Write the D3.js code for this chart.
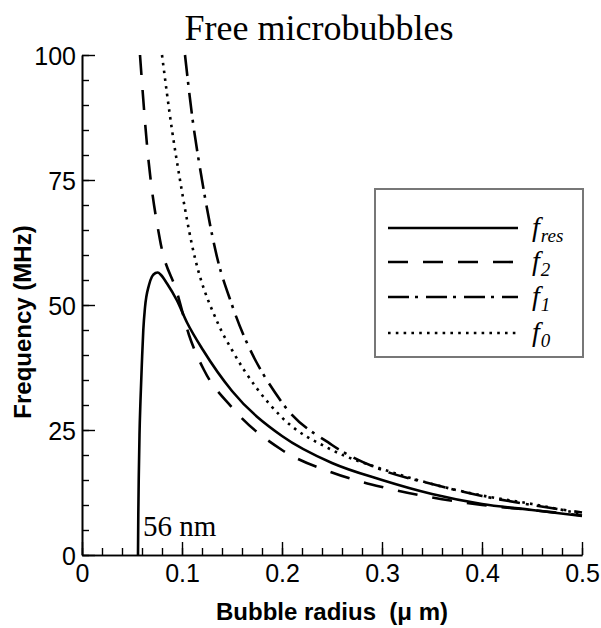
<!DOCTYPE html>
<html><head><meta charset="utf-8">
<script src="https://cdn.jsdelivr.net/npm/d3@7"></script>
<style>body{margin:0;background:#fff}svg{display:block}</style>
</head><body>
<svg id="c" width="601" height="628"></svg>
<script>
// Data (radius in µm, frequency in MHz)
const fresR = [0.056,0.0563,0.0568,0.0575,0.0585,0.060,0.0613,0.063,0.067,0.070,0.0735,0.0757,0.079,0.085,0.0947,0.105,0.121,0.15,0.2,0.25,0.3,0.35,0.4,0.45,0.5];
const fresF = [0,8,16,24,31,39,45,49.5,54,55.7,56.4,56.5,56,54.3,51,46.5,41,32.8,23.8,18.4,15,12.2,10.2,9.0,7.8];
const f2R = [0.058,0.065,0.078,0.095,0.107,0.122,0.15,0.2,0.25,0.3,0.35,0.4,0.45,0.5];
const f2F = [100,82,63,52.5,44,37,29.5,21,16.5,13.6,11.5,10,9,7.9];
const f1R = [0.103,0.11,0.12,0.135,0.15,0.2,0.25,0.3,0.35,0.4,0.45,0.5];
const f1F = [100,88,75,59.6,50,30.5,22,17,14.2,11.8,10,8.5];
const f0R = [0.080,0.09,0.098,0.11,0.136,0.15,0.2,0.25,0.3,0.35,0.4,0.45,0.5];
const f0F = [100,85,75,62,46.3,41,27.5,21,17.2,14.2,11.9,10.2,8.2];
const seriesNames = ["res","2","1","0"];
const xMajor = [0,0.1,0.2,0.3,0.4,0.5];
const xMajorLabels = ["0","0.1","0.2","0.3","0.4","0.5"];
const yMajor = [0,25,50,75,100];
const yMajorLabels = ["0","25","50","75","100"];
const titleText = "Free microbubbles";
const xTitle = "Bubble radius  (\u03bc m)";
const yTitle = "Frequency (MHz)";
const noteText = "56 nm";

const svg = d3.select("#c");
const x = d3.scaleLinear().domain([0,0.5]).range([82,582]);
const y = d3.scaleLinear().domain([0,100]).range([555,55]);

const series = [
  {name:"res", R:fresR, F:fresF, dash:null},
  {name:"2", R:f2R, F:f2F, dash:"20,15"},
  {name:"1", R:f1R, F:f1F, dash:"21,6,3,8"},
  {name:"0", R:f0R, F:f0F, dash:"2.6,5.2"}
];

svg.append("clipPath").attr("id","pc").append("rect")
  .attr("x",x(0)).attr("y",y(100)-1).attr("width",x(0.5)-x(0)+4).attr("height",y(0)-y(100)+2);

const line = d3.line().x(d=>x(d[0])).y(d=>y(d[1])).curve(d3.curveMonotoneX);
const g = svg.append("g").attr("clip-path","url(#pc)");
series.forEach(s=>{
  const pts = s.R.map((r,i)=>[r,s.F[i]]);
  g.append("path").attr("d",line(pts)).attr("fill","none").attr("stroke","#000")
    .attr("stroke-width",2.6).attr("stroke-dasharray",s.dash);
});

const xAxis = d3.axisBottom(x).tickValues(xMajor).tickFormat((d,i)=>xMajorLabels[i]).tickSizeInner(-13).tickSizeOuter(0);
const xAxisMinor = d3.axisBottom(x).tickValues(d3.range(0,0.5001,0.02)).tickFormat("").tickSizeInner(-7).tickSizeOuter(0);
const yAxis = d3.axisLeft(y).tickValues(yMajor).tickFormat((d,i)=>yMajorLabels[i]).tickSizeInner(-13).tickSizeOuter(0);
const yAxisMinor = d3.axisLeft(y).tickValues(d3.range(0,100.01,5)).tickFormat("").tickSizeInner(-7).tickSizeOuter(0);

function style(sel){
  sel.select(".domain").attr("stroke","#000").attr("stroke-width",1.6);
  sel.selectAll(".tick line").attr("stroke","#000").attr("stroke-width",1.4);
  sel.selectAll(".tick text").attr("font-family","Liberation Sans, Arial, sans-serif").attr("font-size",25).attr("fill","#000");
}
svg.append("g").attr("transform",`translate(0,${y(0)})`).call(xAxisMinor).call(style);
const gx = svg.append("g").attr("transform",`translate(0,${y(0)})`).call(xAxis).call(style);
gx.selectAll(".tick text").attr("dy",null).attr("y",27);
svg.append("g").attr("transform",`translate(${x(0)},0)`).call(yAxisMinor).call(style);
const gy = svg.append("g").attr("transform",`translate(${x(0)},0)`).call(yAxis).call(style);
gy.selectAll(".tick text").attr("x",-6).attr("dy","0.36em");

svg.append("text").attr("x",319).attr("y",40).attr("text-anchor","middle")
  .attr("font-family","Liberation Serif, Times New Roman, serif").attr("font-size",36).text(titleText);
svg.append("text").attr("x",332).attr("y",620).attr("text-anchor","middle")
  .attr("font-family","Liberation Sans, Arial, sans-serif").attr("font-weight","bold").attr("font-size",24)
  .style("white-space","pre").text(xTitle);
svg.append("text").attr("transform","translate(31,322) rotate(-90)").attr("text-anchor","middle")
  .attr("font-family","Liberation Sans, Arial, sans-serif").attr("font-weight","bold").attr("font-size",24).text(yTitle);
svg.append("text").attr("x",x(0.061)).attr("y",y(3.8)).attr("font-family","Liberation Serif, Times New Roman, serif")
  .attr("font-size",29).text(noteText);

const lg = svg.append("g");
lg.append("rect").attr("x",375).attr("y",189).attr("width",208).attr("height",168)
  .attr("fill","#fff").attr("stroke","#777").attr("stroke-width",2);
const rowY = [228,262,297,333];
series.forEach((s,i)=>{
  lg.append("line").attr("x1",388).attr("x2",518).attr("y1",rowY[i]).attr("y2",rowY[i])
    .attr("stroke","#000").attr("stroke-width",2.6).attr("stroke-dasharray",s.dash);
  const t = lg.append("text").attr("x",532).attr("y",rowY[i]+8)
    .attr("font-family","Liberation Serif, Times New Roman, serif").attr("font-style","italic").attr("font-size",28);
  t.append("tspan").text("f");
  t.append("tspan").attr("dy",6).attr("dx",1).attr("font-size",19).text(s.name);
});
</script>
</body></html>
